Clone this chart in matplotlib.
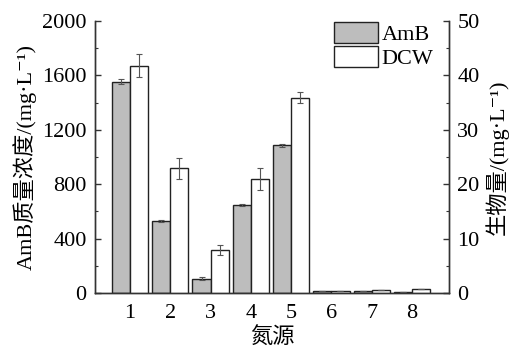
import numpy as np
import matplotlib
matplotlib.use('Agg')
import matplotlib.pyplot as plt

plt.rcParams['font.family'] = ['Liberation Serif', 'Noto Sans CJK SC', 'DejaVu Serif']

# nitrogen sources 1-8
sources = [1, 2, 3, 4, 5, 6, 7, 8]
amb = [1555, 530, 105, 648, 1085, 12, 12, 8]          # mg/L, left axis
amb_err = [20, 10, 10, 10, 8, 0, 0, 0]
dcw = [41.8, 22.9, 7.9, 20.9, 35.9, 0.4, 0.5, 0.7]   # right axis
dcw_err = [2.1, 2.0, 1.0, 2.0, 1.0, 0, 0, 0]

x = np.array(sources)
w = 0.45
fs = 16

fig = plt.figure(figsize=(5.12, 3.47), dpi=100)
ax = fig.add_axes([0.1855, 0.1556, 0.6915, 0.7839])
ax2 = ax.twinx()

b1 = ax.bar(x - w / 2, amb, w, color='#bdbdbd', edgecolor='#222222', linewidth=1.0, zorder=2)
ax.errorbar(x - w / 2, amb, yerr=amb_err, fmt='none', ecolor='#555555',
            elinewidth=0.8, capsize=2.5, capthick=0.8, zorder=3)
b2 = ax2.bar(x + w / 2, dcw, w, color='white', edgecolor='#222222', linewidth=1.0, zorder=2)
ax2.errorbar(x + w / 2, dcw, yerr=dcw_err, fmt='none', ecolor='#555555',
             elinewidth=0.8, capsize=2.5, capthick=0.8, zorder=3)

ax.set_xlim(0.13, 8.92)
ax.set_ylim(0, 2000)
ax2.set_ylim(0, 50)
ax.set_yticks([0, 400, 800, 1200, 1600, 2000])
ax.set_yticks(np.arange(200, 2000, 400), minor=True)
ax2.set_yticks([0, 10, 20, 30, 40, 50])
ax2.set_yticks(np.arange(5, 50, 10), minor=True)
ax.set_xticks(x)
ax.set_xticklabels([str(s) for s in sources])

for a in (ax, ax2):
    a.spines['top'].set_visible(False)
    for s in a.spines.values():
        s.set_color('#333333')
        s.set_linewidth(1.0)
    a.tick_params(axis='y', which='major', direction='in', length=4.5, width=1.0,
                  labelsize=fs, pad=6, color='#333333')
    a.tick_params(axis='y', which='minor', direction='in', length=2.5, width=0.8,
                  color='#333333')
ax.tick_params(axis='x', length=0, labelsize=fs, pad=8)

ax.set_xlabel('氮源', fontsize=fs, labelpad=3)
ax.set_ylabel('AmB质量浓度/(mg·L⁻¹)', fontsize=fs, labelpad=4)
ax2.set_ylabel('生物量/(mg·L⁻¹)', fontsize=fs, labelpad=4)

ax2.legend([b1, b2], ['AmB', 'DCW'], loc='upper right', frameon=False,
           fontsize=fs, handlelength=2.0, handleheight=1.1, handletextpad=0.15,
           labelspacing=0.05, borderaxespad=0.3, bbox_to_anchor=(1.0, 1.055))

fig.savefig('out.png', dpi=100)
